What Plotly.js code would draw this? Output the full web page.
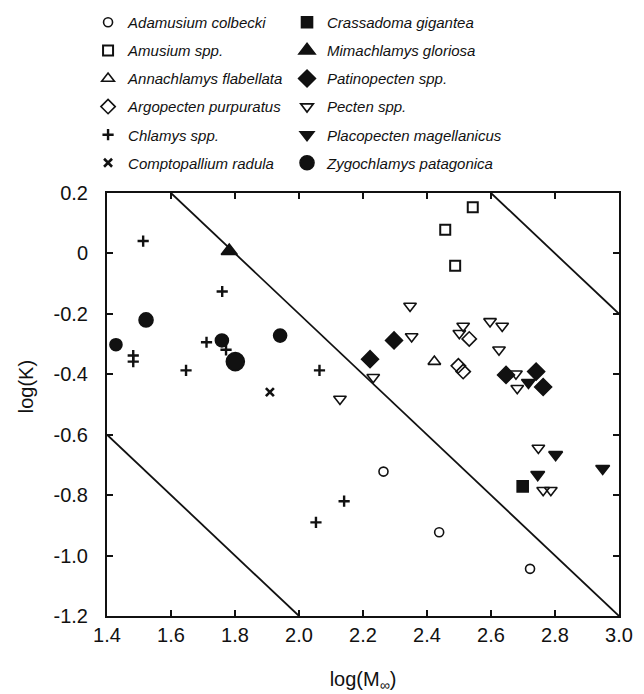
<!DOCTYPE html>
<html>
<head>
<meta charset="utf-8">
<script src="https://cdn.plot.ly/plotly-3.0.1.min.js"></script>
<style>html,body{margin:0;padding:0;background:#fff;}#chart{width:644px;height:694px;}</style>
</head>
<body>
<div id="chart"></div>
<script>
// ---- data (log M_inf, log K) ----
const adamusiumX = [2.264, 2.438, 2.722];
const adamusiumY = [-0.722, -0.923, -1.044];
const amusiumX = [2.543, 2.457, 2.488];
const amusiumY = [0.153, 0.078, -0.041];
const annachlamysX = [2.423];
const annachlamysY = [-0.358];
const argopectenX = [2.498, 2.513, 2.532];
const argopectenY = [-0.372, -0.391, -0.283];
const chlamysX = [1.513, 1.760, 1.711, 1.772, 1.482, 1.482, 1.647, 2.064, 2.141, 2.053];
const chlamysY = [0.041, -0.126, -0.294, -0.319, -0.338, -0.358, -0.387, -0.387, -0.820, -0.890];
const comptopalliumX = [1.909];
const comptopalliumY = [-0.459];
const crassadomaX = [2.699];
const crassadomaY = [-0.771];
const mimachlamysX = [1.782];
const mimachlamysY = [0.008];
const patinopectenX = [2.222, 2.297, 2.647, 2.741, 2.763];
const patinopectenY = [-0.350, -0.288, -0.402, -0.391, -0.442];
const pectenX = [2.128, 2.232, 2.347, 2.352, 2.513, 2.501, 2.597, 2.635, 2.625, 2.678, 2.682, 2.748, 2.763, 2.787];
const pectenY = [-0.482, -0.410, -0.174, -0.275, -0.240, -0.264, -0.225, -0.240, -0.319, -0.398, -0.446, -0.644, -0.784, -0.784];
const placopectenX = [2.717, 2.746, 2.802, 2.949];
const placopectenY = [-0.427, -0.732, -0.666, -0.712];
const zygochlamysX = [1.428, 1.522, 1.759, 1.801, 1.941];
const zygochlamysY = [-0.302, -0.220, -0.288, -0.358, -0.272];

// reference lines log K = c - log M (three isopleths)
const guide1X = [1.4, 2.0], guide1Y = [-0.6, -1.2];
const guide2X = [1.6, 3.0], guide2Y = [0.2, -1.2];
const guide3X = [2.6, 3.0], guide3Y = [0.2, -0.2];

const xTickVals = [1.4, 1.6, 1.8, 2.0, 2.2, 2.4, 2.6, 2.8, 3.0];
const xTickText = ['1.4', '1.6', '1.8', '2.0', '2.2', '2.4', '2.6', '2.8', '3.0'];
const yTickVals = [0.2, 0, -0.2, -0.4, -0.6, -0.8, -1.0, -1.2];
const yTickText = ['0.2', '0', '-0.2', '-0.4', '-0.6', '-0.8', '-1.0', '-1.2'];

// ---- styles ----
const INK = '#111111';
const zygoSizes = [12, 14, 13, 18, 13];

function sp(name, x, y, legend, marker) {
  return {
    type: 'scatter', mode: 'markers', name: name, x: x, y: y,
    legend: legend, legendgroup: name,
    marker: Object.assign({color: INK, opacity: 1, line: {color: INK, width: 1.6}}, marker),
    hoverinfo: 'x+y+name'
  };
}
function guide(x, y) {
  return {type: 'scatter', mode: 'lines', x: x, y: y, showlegend: false,
          line: {color: INK, width: 1.8}, hoverinfo: 'skip'};
}

const traces = [
  guide(guide1X, guide1Y), guide(guide2X, guide2Y), guide(guide3X, guide3Y),
  sp('Adamusium colbecki', adamusiumX, adamusiumY, 'legend', {symbol: 'circle-open', size: 9}),
  sp('Amusium spp.', amusiumX, amusiumY, 'legend', {symbol: 'square-open', size: 10, line: {color: INK, width: 2}}),
  sp('Annachlamys flabellata', annachlamysX, annachlamysY, 'legend', {symbol: 'triangle-up-open', size: 11}),
  sp('Argopecten purpuratus', argopectenX, argopectenY, 'legend', {symbol: 'diamond-open', size: 11}),
  sp('Chlamys spp.', chlamysX, chlamysY, 'legend', {symbol: 'cross-thin-open', size: 8, line: {color: INK, width: 2.4}}),
  sp('Comptopallium radula', comptopalliumX, comptopalliumY, 'legend', {symbol: 'x-thin-open', size: 8, line: {color: INK, width: 2.6}}),
  sp('Crassadoma gigantea', crassadomaX, crassadomaY, 'legend2', {symbol: 'square', size: 11}),
  sp('Mimachlamys gloriosa', mimachlamysX, mimachlamysY, 'legend2', {symbol: 'triangle-up', size: 14}),
  sp('Patinopecten spp.', patinopectenX, patinopectenY, 'legend2', {symbol: 'diamond', size: 13}),
  sp('Pecten spp.', pectenX, pectenY, 'legend2', {symbol: 'triangle-down-open', size: 11}),
  sp('Placopecten magellanicus', placopectenX, placopectenY, 'legend2', {symbol: 'triangle-down', size: 12}),
  sp('Zygochlamys patagonica', zygochlamysX, zygochlamysY, 'legend2', {symbol: 'circle', size: zygoSizes})
];

const FONT = 'Liberation Sans, Arial, Helvetica, sans-serif';
const legendBase = {
  orientation: 'v', xanchor: 'left', yanchor: 'top', y: 1.442,
  traceorder: 'grouped', tracegroupgap: 5.6, itemsizing: 'trace',
  bgcolor: 'rgba(0,0,0,0)', borderwidth: 0,
  font: {family: FONT, size: 15, style: 'italic', color: INK}
};

const axisBase = {
  showline: true, linecolor: INK, linewidth: 2, mirror: 'ticks',
  ticks: 'inside', ticklen: 6, tickwidth: 2, tickcolor: INK,
  showgrid: false, zeroline: false, tickmode: 'array',
  tickfont: {family: FONT, size: 20, color: INK}
};

const layout = {
  width: 644, height: 694,
  margin: {l: 107, r: 25, t: 193, b: 78, pad: 0, autoexpand: false},
  paper_bgcolor: '#ffffff', plot_bgcolor: '#ffffff',
  font: {family: FONT, color: INK},
  showlegend: true,
  legend: Object.assign({}, legendBase, {x: -0.037}),
  legend2: Object.assign({}, legendBase, {x: 0.3516}),
  xaxis: Object.assign({}, axisBase, {
    range: [1.4, 3.0], tickvals: xTickVals, ticktext: xTickText, ticklabelstandoff: 0,
    title: {text: 'log(M<sub>∞</sub>)', font: {family: FONT, size: 20, color: INK}, standoff: 27}
  }),
  yaxis: Object.assign({}, axisBase, {
    range: [-1.2, 0.2], tickvals: yTickVals, ticktext: yTickText, ticklabelstandoff: 13
  }),
  annotations: [{
    text: 'log(K)', xref: 'paper', yref: 'paper', x: -0.158, y: 0.541,
    xanchor: 'center', yanchor: 'middle', textangle: -90, showarrow: false,
    font: {family: FONT, size: 20, color: INK}
  }]
};

Plotly.newPlot('chart', traces, layout, {displayModeBar: false, staticPlot: true});
</script>
</body>
</html>
